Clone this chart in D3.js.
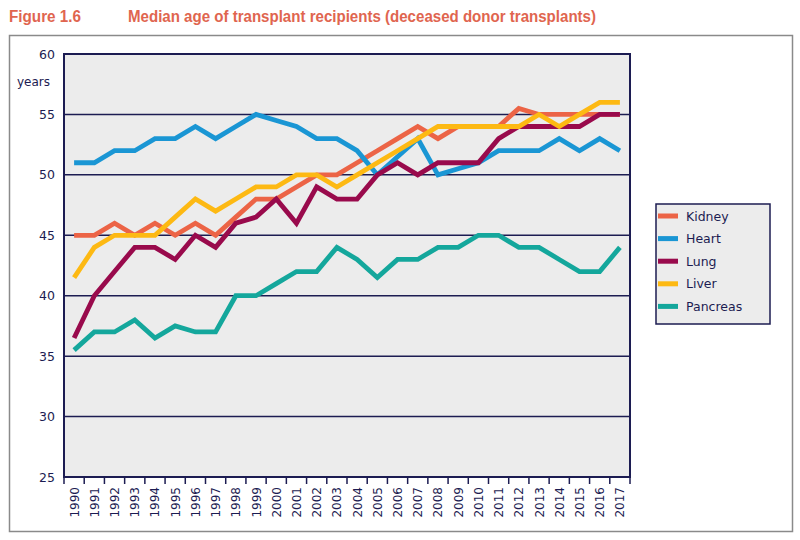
<!DOCTYPE html>
<html>
<head>
<meta charset="utf-8">
<script src="https://cdn.jsdelivr.net/npm/d3@7"></script>
<style>
  html, body { margin: 0; padding: 0; background: #ffffff; }
  svg { display: block; }
</style>
</head>
<body>
<svg id="chart" width="800" height="540"></svg>
<script>
const years = [1990,1991,1992,1993,1994,1995,1996,1997,1998,1999,2000,2001,2002,2003,2004,2005,2006,2007,2008,2009,2010,2011,2012,2013,2014,2015,2016,2017];
const kidney   = [45,45,46,45,46,45,46,45,46.5,48,48,49,50,50,51,52,53,54,53,54,54,54,55.5,55,55,55,55,55];
const heart    = [51,51,52,52,53,53,54,53,54,55,54.5,54,53,53,52,50,51.5,53,50,50.5,51,52,52,52,53,52,53,52];
const lung     = [36.5,40,42,44,44,43,45,44,46,46.5,48,46,49,48,48,50,51,50,51,51,51,53,54,54,54,54,55,55];
const liver    = [41.5,44,45,45,45,46.5,48,47,48,49,49,50,50,49,50,51,52,53,54,54,54,54,54,55,54,55,56,56];
const pancreas = [35.5,37,37,38,36.5,37.5,37,37,40,40,41,42,42,44,43,41.5,43,43,44,44,45,45,44,44,43,42,42,44];
const seriesNames = ["Kidney","Heart","Lung","Liver","Pancreas"];
const seriesValues = [kidney, heart, lung, liver, pancreas];
const yTicks = [25,30,35,40,45,50,55,60];

const colors = ["#ec6446","#1a96d4","#990a4c","#fdb913","#14a79c"];
const navy = "#1c1c52";

const svg = d3.select("#chart");

// outer frame
svg.append("rect").attr("x",9.5).attr("y",35.5).attr("width",783).attr("height",496)
  .attr("fill","none").attr("stroke","#8a8a8a").attr("stroke-width",1.5);

// title
svg.append("text").attr("x",9).attr("y",22)
  .attr("font-family","Liberation Sans, Arial, sans-serif").attr("font-weight","bold")
  .attr("font-size",16).attr("fill","#e0654f")
  .attr("textLength",72).attr("lengthAdjust","spacingAndGlyphs")
  .text("Figure 1.6");
svg.append("text").attr("x",128).attr("y",22)
  .attr("font-family","Liberation Sans, Arial, sans-serif").attr("font-weight","bold")
  .attr("font-size",16).attr("fill","#e0654f")
  .attr("textLength",468).attr("lengthAdjust","spacingAndGlyphs")
  .text("Median age of transplant recipients (deceased donor transplants)");

const pLeft = 64, pRight = 630, pTop = 54, pBottom = 477;
const x = d3.scaleBand().domain(years).range([pLeft,pRight]).padding(0);
const y = d3.scaleLinear().domain([25,60]).range([pBottom,pTop]);

// plot background
svg.append("rect").attr("x",pLeft).attr("y",pTop).attr("width",pRight-pLeft).attr("height",pBottom-pTop)
  .attr("fill","#ececec");

// gridlines
svg.append("g").selectAll("line").data(yTicks).join("line")
  .attr("x1",pLeft).attr("x2",pRight)
  .attr("y1",d=>y(d)).attr("y2",d=>y(d))
  .attr("stroke",navy).attr("stroke-width",1.5);

// y tick labels
svg.append("g").selectAll("text").data(yTicks).join("text")
  .attr("x",55).attr("y",d=>y(d)+4.5)
  .attr("text-anchor","end")
  .attr("font-family","DejaVu Sans, Verdana, sans-serif").attr("font-size",12.5)
  .attr("fill",navy).text(d=>d);

svg.append("text").attr("x",17).attr("y",86)
  .attr("font-family","DejaVu Sans, Verdana, sans-serif").attr("font-size",12)
  .attr("fill",navy).text("years");

// plot border
svg.append("rect").attr("x",pLeft).attr("y",pTop).attr("width",pRight-pLeft).attr("height",pBottom-pTop)
  .attr("fill","none").attr("stroke",navy).attr("stroke-width",2);

// x boundary ticks
const edges = years.map(d=>x(d)).concat([pRight]);
svg.append("g").selectAll("line").data(edges).join("line")
  .attr("x1",d=>d).attr("x2",d=>d).attr("y1",pBottom).attr("y2",pBottom+7)
  .attr("stroke",navy).attr("stroke-width",1.5);

// x labels via axis
const xAxis = d3.axisBottom(x).tickSize(0).tickPadding(0);
const gx = svg.append("g").attr("transform",`translate(0,${pBottom})`).call(xAxis);
gx.select(".domain").remove();
gx.selectAll("text")
  .attr("font-family","DejaVu Sans, Verdana, sans-serif").attr("font-size",12)
  .attr("fill",navy)
  .attr("text-anchor","end")
  .attr("dy",null)
  .attr("transform","translate(4.5,10) rotate(-90)")
  .attr("x",0).attr("y",0);

// lines
const line = d3.line().x((d,i)=>x(years[i])+x.bandwidth()/2).y(d=>y(d));
seriesValues.forEach((vals,k)=>{
  svg.append("path").datum(vals).attr("d",line)
    .attr("fill","none").attr("stroke",colors[k]).attr("stroke-width",4.8)
    .attr("stroke-linejoin","miter").attr("stroke-linecap","butt");
});

// legend
const lg = svg.append("g");
lg.append("rect").attr("x",656).attr("y",204).attr("width",114).attr("height",120)
  .attr("fill","#ececec").attr("stroke",navy).attr("stroke-width",1.5);
seriesNames.forEach((n,k)=>{
  const cy = 216 + k*22.6;
  lg.append("line").attr("x1",658).attr("x2",678).attr("y1",cy).attr("y2",cy)
    .attr("stroke",colors[k]).attr("stroke-width",5);
  lg.append("text").attr("x",686).attr("y",cy+4.5)
    .attr("font-family","DejaVu Sans, Verdana, sans-serif").attr("font-size",12.5)
    .attr("fill",navy).text(n);
});
</script>
</body>
</html>
